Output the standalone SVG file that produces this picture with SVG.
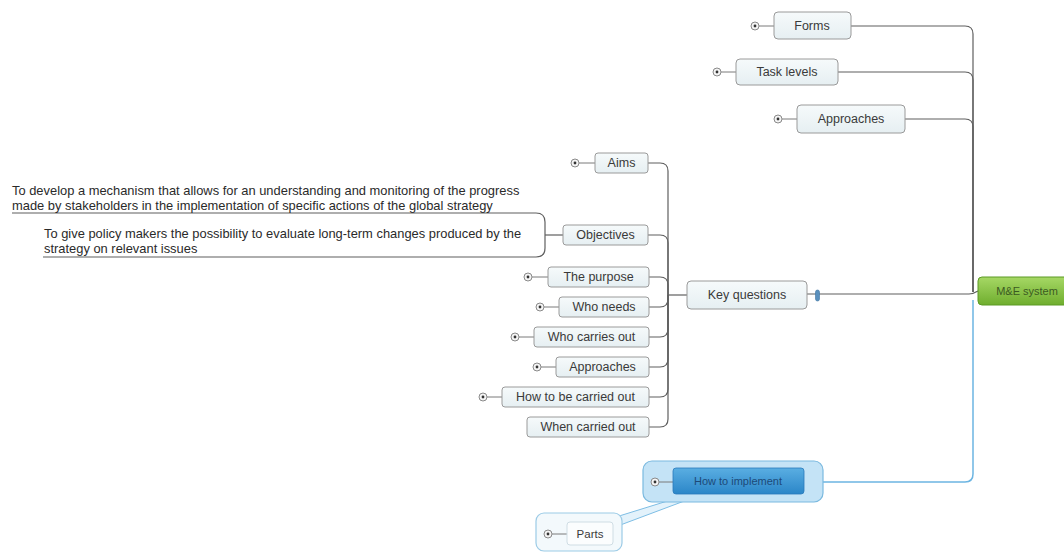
<svg xmlns="http://www.w3.org/2000/svg" width="1064" height="552" viewBox="0 0 1064 552">
  <defs>
    <linearGradient id="topicFill" x1="0" y1="0" x2="0" y2="1">
      <stop offset="0" stop-color="#f6fafb"/>
      <stop offset="1" stop-color="#e6eff2"/>
    </linearGradient>
    <linearGradient id="centralFill" x1="0" y1="0" x2="0" y2="1">
      <stop offset="0" stop-color="#a6d865"/>
      <stop offset="1" stop-color="#6fae2e"/>
    </linearGradient>
    <linearGradient id="selFill" x1="0" y1="0" x2="0" y2="1">
      <stop offset="0" stop-color="#5aaee2"/>
      <stop offset="1" stop-color="#2b86c8"/>
    </linearGradient>
  </defs>
  <style>
    .topic { fill: url(#topicFill); stroke: #9a9a9a; stroke-width: 1; }
    .label { font-family: "Liberation Sans", Arial, sans-serif; font-size: 12.5px; fill: #3a3a3a; text-anchor: middle; dominant-baseline: central; }
    .note { font-family: "Liberation Sans", Arial, sans-serif; font-size: 12.9px; fill: #2a2a2a; }
    .conn { fill: none; stroke: #5f5f5f; stroke-width: 1.2; }
    .blue { fill: none; stroke: #6cb5e2; stroke-width: 1.5; }
    .exp circle.o { fill: #f4f4f4; stroke: #8a8a8a; stroke-width: 1; }
    .exp circle.d { fill: #333; }
    .exp line { stroke: #7a7a7a; stroke-width: 1; }
  </style>

  <!-- connectors -->
  <g id="connectors">
    <!-- central topic branches -->
    <path class="conn" d="M973,292 V34 Q973,26 965,26 H851"/>
    <path class="conn" d="M973,292 V80 Q973,72 965,72 H838"/>
    <path class="conn" d="M973,292 V127 Q973,119 965,119 H905"/>
    <path class="conn" d="M807,294 H969 Q973,294 978,291"/>
    <path class="blue" d="M973,300 V474 Q973,482 965,482 H804"/>
    <!-- key questions branches -->
    <path class="conn" d="M687,295 H668"/>
    <path class="conn" d="M668,295 V171 Q668,163 660,163 H648"/>
    <path class="conn" d="M668,295 V243 Q668,235 660,235 H648"/>
    <path class="conn" d="M668,295 V285 Q668,277 660,277 H649"/>
    <path class="conn" d="M668,295 V299 Q668,307 660,307 H649"/>
    <path class="conn" d="M668,295 V329 Q668,337 660,337 H649"/>
    <path class="conn" d="M668,295 V359 Q668,367 660,367 H649"/>
    <path class="conn" d="M668,295 V389 Q668,397 660,397 H649"/>
    <path class="conn" d="M668,295 V419 Q668,427 660,427 H649"/>
    <!-- objectives to its note bracket -->
    <path class="conn" d="M563,235 H545"/>
    <path class="conn" d="M12,213 H536 Q545,213 545,222 V248 Q545,257 536,257 H43"/>
    <!-- how to implement to parts -->
    <path fill="#e3f2fb" stroke="#7dbde4" stroke-width="1" d="M703,494 L690,494 L603,521 L615,527 Z"/>
  </g>

  <!-- central topic -->
  <g id="node-me-system">
    <rect x="978" y="277" width="96" height="28" rx="4" fill="url(#centralFill)" stroke="#5d9a25"/>
    <text class="label" x="1027" y="291" style="font-size:11px; fill:#3b5a22">M&amp;E system</text>
  </g>

  <g id="node-forms">
    <g class="exp"><line x1="759" y1="26" x2="774" y2="26"/><circle class="o" cx="755" cy="26" r="4"/><circle class="d" cx="755" cy="26" r="1.4"/></g>
    <rect class="topic" x="774" y="12" width="77" height="27" rx="4"/>
    <text class="label" x="812" y="26">Forms</text>
  </g>

  <g id="node-task-levels">
    <g class="exp"><line x1="721" y1="72" x2="736" y2="72"/><circle class="o" cx="717" cy="72" r="4"/><circle class="d" cx="717" cy="72" r="1.4"/></g>
    <rect class="topic" x="736" y="59" width="102" height="26" rx="4"/>
    <text class="label" x="787" y="72">Task levels</text>
  </g>

  <g id="node-approaches-top">
    <g class="exp"><line x1="782" y1="119" x2="797" y2="119"/><circle class="o" cx="778" cy="119" r="4"/><circle class="d" cx="778" cy="119" r="1.4"/></g>
    <rect class="topic" x="797" y="105" width="108" height="28" rx="4"/>
    <text class="label" x="851" y="119">Approaches</text>
  </g>

  <g id="node-key-questions">
    <rect class="topic" x="687" y="281" width="120" height="28" rx="4"/>
    <text class="label" x="747" y="295">Key questions</text>
    <!-- attachment marker -->
    <rect x="815.5" y="290" width="4" height="11" rx="2" fill="#5a90bd" stroke="#3c74a3" stroke-width="0.6"/>
  </g>

  <g id="node-aims">
    <g class="exp"><line x1="579" y1="163" x2="595" y2="163"/><circle class="o" cx="575" cy="163" r="4"/><circle class="d" cx="575" cy="163" r="1.4"/></g>
    <rect class="topic" x="595" y="153" width="53" height="20" rx="3"/>
    <text class="label" x="621.5" y="163">Aims</text>
  </g>

  <g id="node-objectives">
    <rect class="topic" x="563" y="225" width="85" height="20" rx="3"/>
    <text class="label" x="605.5" y="235">Objectives</text>
  </g>

  <g id="node-objective-notes">
    <text class="note" x="12" y="195">To develop a mechanism that allows for an understanding and monitoring of the progress</text>
    <text class="note" x="12" y="210">made by stakeholders in the implementation of specific actions of the global strategy</text>
    <text class="note" x="44" y="238">To give policy makers the possibility to evaluate long-term changes produced by the</text>
    <text class="note" x="44" y="253">strategy on relevant issues</text>
  </g>

  <g id="node-purpose">
    <g class="exp"><line x1="532" y1="277" x2="548" y2="277"/><circle class="o" cx="528" cy="277" r="4"/><circle class="d" cx="528" cy="277" r="1.4"/></g>
    <rect class="topic" x="548" y="267" width="101" height="20" rx="3"/>
    <text class="label" x="598.5" y="277">The purpose</text>
  </g>

  <g id="node-who-needs">
    <g class="exp"><line x1="544" y1="307" x2="559" y2="307"/><circle class="o" cx="540" cy="307" r="4"/><circle class="d" cx="540" cy="307" r="1.4"/></g>
    <rect class="topic" x="559" y="297" width="90" height="20" rx="3"/>
    <text class="label" x="604" y="307">Who needs</text>
  </g>

  <g id="node-who-carries-out">
    <g class="exp"><line x1="519" y1="337" x2="534" y2="337"/><circle class="o" cx="515" cy="337" r="4"/><circle class="d" cx="515" cy="337" r="1.4"/></g>
    <rect class="topic" x="534" y="327" width="115" height="20" rx="3"/>
    <text class="label" x="591.5" y="337">Who carries out</text>
  </g>

  <g id="node-approaches">
    <g class="exp"><line x1="541" y1="367" x2="556" y2="367"/><circle class="o" cx="537" cy="367" r="4"/><circle class="d" cx="537" cy="367" r="1.4"/></g>
    <rect class="topic" x="556" y="357" width="93" height="20" rx="3"/>
    <text class="label" x="602.5" y="367">Approaches</text>
  </g>

  <g id="node-how-carried-out">
    <g class="exp"><line x1="487" y1="397" x2="502" y2="397"/><circle class="o" cx="483" cy="397" r="4"/><circle class="d" cx="483" cy="397" r="1.4"/></g>
    <rect class="topic" x="502" y="387" width="147" height="20" rx="3"/>
    <text class="label" x="575.5" y="397">How to be carried out</text>
  </g>

  <g id="node-when-carried-out">
    <rect class="topic" x="527" y="417" width="122" height="20" rx="3"/>
    <text class="label" x="588" y="427">When carried out</text>
  </g>

  <g id="node-how-to-implement">
    <rect x="643" y="461" width="180" height="41" rx="9" fill="#c4e3f6" stroke="#7ab9df" stroke-width="1.2"/>
    <g class="exp"><line x1="659" y1="482" x2="673" y2="482"/><circle class="o" cx="655" cy="482" r="4"/><circle class="d" cx="655" cy="482" r="1.4"/></g>
    <rect x="673" y="468" width="131" height="26" rx="3" fill="url(#selFill)" stroke="#2a7abb" stroke-width="0.8"/>
    <text class="label" x="738" y="481" style="font-size:11px; fill:#1d4a78">How to implement</text>
  </g>

  <g id="node-parts">
    <rect x="536" y="513" width="86" height="38" rx="8" fill="#f3f9fc" stroke="#9ccbe6" stroke-width="1.2"/>
    <g class="exp"><line x1="552" y1="534" x2="567" y2="534"/><circle class="o" cx="548" cy="534" r="4"/><circle class="d" cx="548" cy="534" r="1.4"/></g>
    <rect x="567" y="522" width="46" height="23" rx="3" fill="#fbfdfe" stroke="#cfdde4" stroke-width="1"/>
    <text class="label" x="590" y="534" style="font-size:11.5px">Parts</text>
  </g>
</svg>
